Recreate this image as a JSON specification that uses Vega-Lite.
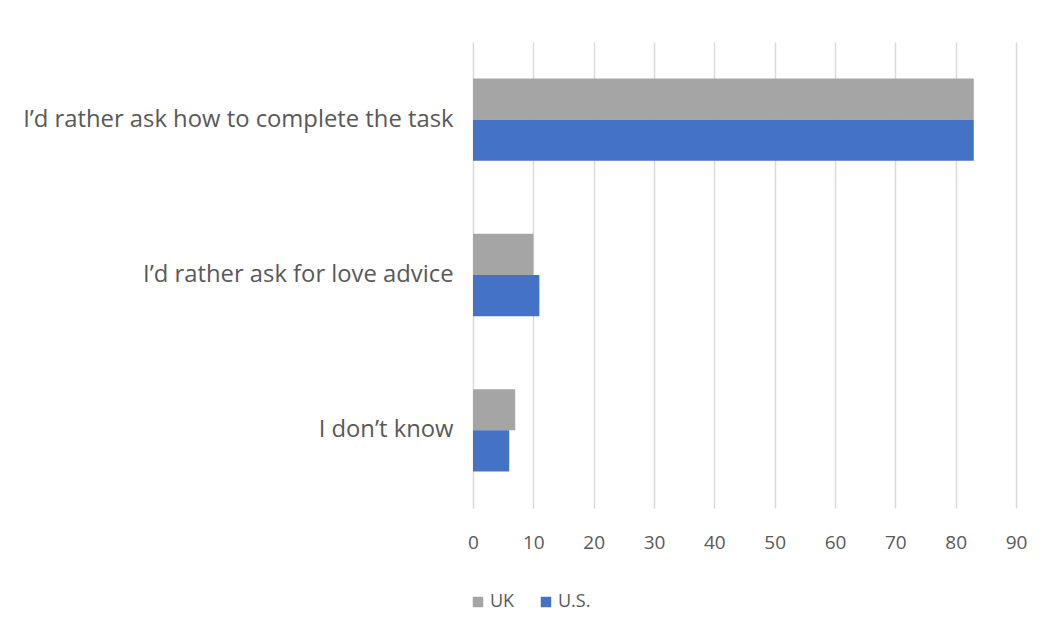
{
  "$schema": "https://vega.github.io/schema/vega-lite/v6.json",
  "width": 543,
  "height": 466,
  "autosize": {"type": "none"},
  "padding": {"left": 473, "top": 42, "right": 34, "bottom": 133},
  "background": "white",
  "data": {
    "values": [
      {"answer": "I’d rather ask how to complete the task", "country": "UK", "value": 83},
      {"answer": "I’d rather ask how to complete the task", "country": "U.S.", "value": 83},
      {"answer": "I’d rather ask for love advice", "country": "UK", "value": 10},
      {"answer": "I’d rather ask for love advice", "country": "U.S.", "value": 11},
      {"answer": "I don’t know", "country": "UK", "value": 7},
      {"answer": "I don’t know", "country": "U.S.", "value": 6}
    ]
  },
  "mark": {"type": "bar"},
  "encoding": {
    "y": {
      "field": "answer",
      "type": "nominal",
      "sort": null,
      "title": null,
      "scale": {"paddingInner": 0.47, "paddingOuter": 0.235},
      "axis": {
        "domain": false,
        "ticks": false,
        "labelFont": "Open Sans",
        "labelFontSize": 23.8,
        "labelColor": "#595959",
        "labelPadding": 20,
        "labelLimit": 500
      }
    },
    "yOffset": {"field": "country", "type": "nominal", "sort": ["UK", "U.S."]},
    "x": {
      "field": "value",
      "type": "quantitative",
      "title": null,
      "scale": {"domain": [0, 90], "nice": false},
      "axis": {
        "values": [0, 10, 20, 30, 40, 50, 60, 70, 80, 90],
        "domain": false,
        "ticks": false,
        "grid": true,
        "gridColor": "#d9d9d9",
        "gridWidth": 1.5,
        "labelFont": "Open Sans",
        "labelFontSize": 19,
        "labelColor": "#595959",
        "labelPadding": 25,
        "labelFlush": false
      }
    },
    "color": {
      "field": "country",
      "type": "nominal",
      "sort": ["UK", "U.S."],
      "scale": {"domain": ["UK", "U.S."], "range": ["#a5a5a5", "#4472c4"]},
      "legend": {
        "title": null,
        "orient": "none",
        "direction": "horizontal",
        "legendX": -4,
        "legendY": 551,
        "symbolType": "square",
        "symbolSize": 110,
        "symbolStrokeWidth": 0,
        "labelFont": "Open Sans",
        "labelFontSize": 18,
        "labelColor": "#595959",
        "labelOffset": 3,
        "columnPadding": 22
      }
    }
  },
  "config": {"view": {"stroke": null}}
}
